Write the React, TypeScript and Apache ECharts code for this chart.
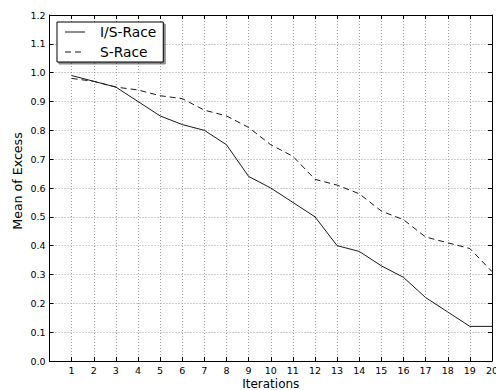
import React, { useEffect, useRef } from "react";
import * as echarts from "echarts";

const iterations = [1, 2, 3, 4, 5, 6, 7, 8, 9, 10, 11, 12, 13, 14, 15, 16, 17, 18, 19, 20];
const isRace = [0.99, 0.97, 0.95, 0.9, 0.85, 0.82, 0.8, 0.75, 0.64, 0.6, 0.55, 0.5, 0.4, 0.38, 0.33, 0.29, 0.22, 0.17, 0.12, 0.12];
const sRace = [0.98, 0.97, 0.95, 0.94, 0.92, 0.91, 0.87, 0.85, 0.81, 0.75, 0.71, 0.63, 0.61, 0.58, 0.52, 0.49, 0.43, 0.41, 0.39, 0.31];
const seriesNames = ["I/S-Race", "S-Race"];
const xTitle = "Iterations";
const yTitle = "Mean of Excess";

const FONT = "DejaVu Sans";
const solidIcon = "path://M0,0h20v1h-20z";
const dashedIcon = "path://M0,0h6v1h-6z M10,0h6v1h-6z M19.9,0h0.1v1h-0.1z";

export default function App() {
  const ref = useRef<HTMLDivElement>(null);
  useEffect(() => {
    if (!ref.current) return;
    const chart = echarts.init(ref.current, undefined, { renderer: "svg" });
    const gridLine = { show: true, lineStyle: { color: "#a0a0a0", type: [1, 2], width: 1 } };
    const axisLine = { show: true, onZero: false, lineStyle: { color: "#000", width: 1 } };
    const tick = { show: true, inside: true, length: 4, lineStyle: { color: "#000" } };
    chart.setOption({
      animation: false,
      backgroundColor: "#fff",
      grid: { left: 49.5, right: 4, top: 15, bottom: 29, containLabel: false, outerBoundsMode: "none" },
      legend: {
        orient: "vertical",
        left: 57,
        top: 22,
        padding: [3, 7, 3, 8],
        itemWidth: 20,
        itemHeight: 14,
        itemGap: 6,
        symbolKeepAspect: true,
        backgroundColor: "#fff",
        borderColor: "#000",
        borderWidth: 1,
        borderRadius: 0,
        shadowColor: "rgba(0,0,0,0.45)",
        shadowBlur: 0,
        shadowOffsetX: 2,
        shadowOffsetY: 2,
        itemStyle: { borderWidth: 0, color: "#1a1a1a" },
        textStyle: { fontFamily: FONT, fontSize: 13.8, color: "#000", padding: [0, 0, 0, 10] },
        data: [
          { name: seriesNames[0], icon: solidIcon },
          { name: seriesNames[1], icon: dashedIcon },
        ],
      },
      graphic: [
        {
          type: "text",
          x: 17.5,
          y: 181,
          rotation: Math.PI / 2,
          style: {
            text: yTitle,
            fontFamily: FONT,
            fontSize: 12.6,
            fill: "#000",
            align: "center",
            verticalAlign: "middle",
          },
        },
      ],
      xAxis: [
        {
          type: "value",
          min: 0,
          max: 20,
          interval: 1,
          name: xTitle,
          nameLocation: "middle",
          nameGap: 17,
          nameMoveOverlap: false,
          nameTextStyle: { fontFamily: FONT, fontSize: 12, color: "#000" },
          axisLine,
          axisTick: tick,
          splitLine: gridLine,
          axisLabel: {
            fontFamily: FONT,
            fontSize: 9.5,
            color: "#000",
            margin: 4,
            formatter: (v: number) => (v === 0 ? "" : String(v)),
          },
        },
        {
          type: "value",
          position: "top",
          min: 0,
          max: 20,
          interval: 1,
          axisLine,
          axisTick: tick,
          splitLine: { show: false },
          axisLabel: { show: false },
        },
      ],
      yAxis: [
        {
          type: "value",
          min: 0,
          max: 1.2,
          interval: 0.1,
          axisLine,
          axisTick: tick,
          splitLine: gridLine,
          axisLabel: {
            fontFamily: FONT,
            fontSize: 9.5,
            color: "#000",
            margin: 4,
            formatter: (v: number) => v.toFixed(1),
          },
        },
        {
          type: "value",
          position: "right",
          min: 0,
          max: 1.2,
          interval: 0.1,
          axisLine,
          axisTick: tick,
          splitLine: { show: false },
          axisLabel: { show: false },
        },
      ],
      series: [
        {
          name: seriesNames[0],
          type: "line",
          data: iterations.map((x, i) => [x, isRace[i]]),
          showSymbol: false,
          symbol: "none",
          lineStyle: { color: "#1a1a1a", width: 1, type: "solid" },
          itemStyle: { color: "#1a1a1a" },
        },
        {
          name: seriesNames[1],
          type: "line",
          data: iterations.map((x, i) => [x, sRace[i]]),
          showSymbol: false,
          symbol: "none",
          lineStyle: { color: "#1a1a1a", width: 1, type: [6, 4] },
          itemStyle: { color: "#1a1a1a" },
        },
      ],
    });
    return () => chart.dispose();
  }, []);
  return <div ref={ref} style={{ width: 496, height: 390, position: "absolute", left: 0, top: 0 }} />;
}
